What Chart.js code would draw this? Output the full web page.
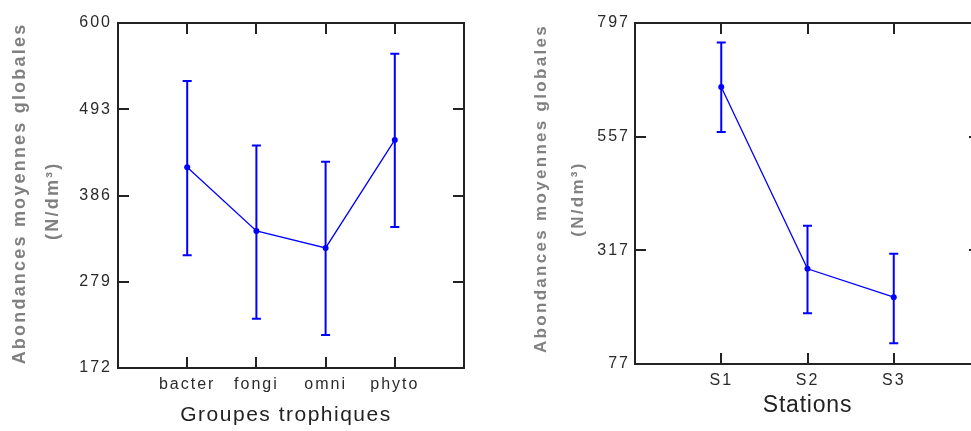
<!DOCTYPE html>
<html><head><meta charset="utf-8">
<script src="https://cdn.jsdelivr.net/npm/chart.js@4/dist/chart.umd.min.js"></script>
<style>
html,body{margin:0;padding:0;background:#fff;overflow:hidden;width:971px;height:431px;}
#c1{position:absolute;left:0;top:0;}
#c2{position:absolute;left:490px;top:0;}
</style></head><body>
<canvas id="c1" width="480" height="431"></canvas>
<canvas id="c2" width="500" height="431"></canvas>
<script>
// ---- Data (left panel) ----
const groupCategories = ['bacter', 'fongi', 'omni', 'phyto'];
const groupMeans = [421, 342, 321, 455];
const groupUpper = [528, 448, 428, 562];
const groupLower = [312, 233, 213, 347];
const groupYTicks = [172, 279, 386, 493, 600];

// ---- Data (right panel) ----
const stationCategories = ['S1', 'S2', 'S3'];
const stationMeans = [662, 278, 218];
const stationUpper = [756, 369, 310];
const stationLower = [567, 184, 121];
const stationYTicks = [77, 317, 557, 797];

const yTitleMain = 'Abondances moyennes globales';
const yTitleUnit = '(N/dm³)';
const FONT = "'Liberation Sans', Arial, Helvetica, sans-serif";

function makePlugin(cfg) {
  return {
    id: 'frame_' + cfg.id,
    afterLayout(chart) {
      const spacing = { x: cfg.xLS, y: cfg.yLS };
      const shift = { x: [cfg.xShift, 0], y: [0, cfg.yShift] };
      Object.values(chart.scales).forEach(s => {
        if (s._lsWrapped) return;
        s._lsWrapped = true;
        const dl = s.drawLabels, dt = s.drawTitle;
        s.drawLabels = function (ca) {
          const c = this.ctx; c.save(); c.letterSpacing = cfg.tickLS; dl.call(this, ca); c.restore();
        };
        s.drawTitle = function () {
          const c = this.ctx; c.save();
          c.letterSpacing = spacing[this.id];
          c.translate(shift[this.id][0], shift[this.id][1]);
          dt.call(this); c.restore();
        };
      });
    },
    beforeDatasetsDraw(chart) {
      const { ctx, scales: { x, y } } = chart;
      ctx.save();
      ctx.strokeStyle = '#0000ff';
      ctx.lineWidth = 2;
      cfg.upper.forEach((u, i) => {
        const px = x.getPixelForValue(i + 1);
        const pu = y.getPixelForValue(u);
        const pl = y.getPixelForValue(cfg.lower[i]);
        ctx.beginPath();
        ctx.moveTo(px, pu); ctx.lineTo(px, pl);
        ctx.moveTo(px - 4.5, pu); ctx.lineTo(px + 4.5, pu);
        ctx.moveTo(px - 4.5, pl); ctx.lineTo(px + 4.5, pl);
        ctx.stroke();
      });
      ctx.restore();
    },
    afterDraw(chart) {
      const { ctx, chartArea: a, scales: { x, y } } = chart;
      ctx.save();
      ctx.strokeStyle = '#222';
      ctx.lineWidth = 2;
      ctx.strokeRect(a.left, a.top, a.right - a.left, a.bottom - a.top);
      const tl = 11;
      ctx.beginPath();
      cfg.categories.forEach((c, i) => {
        const px = Math.round(x.getPixelForValue(i + 1));
        ctx.moveTo(px, a.bottom); ctx.lineTo(px, a.bottom - tl);
        ctx.moveTo(px, a.top); ctx.lineTo(px, a.top + tl);
      });
      cfg.yTicks.forEach(v => {
        const py = Math.round(y.getPixelForValue(v));
        ctx.moveTo(a.left, py); ctx.lineTo(a.left + tl, py);
        ctx.moveTo(a.right, py); ctx.lineTo(a.right - tl, py);
      });
      ctx.stroke();
      ctx.restore();
    }
  };
}

function buildChart(canvasId, cfg) {
  return new Chart(document.getElementById(canvasId), {
    type: 'line',
    data: {
      datasets: [{
        data: cfg.means.map((v, i) => ({ x: i + 1, y: v })),
        borderColor: '#0000ff',
        backgroundColor: '#0000ff',
        borderWidth: 1.3,
        pointRadius: 3,
        pointHoverRadius: 3,
        pointBorderWidth: 0,
        pointBackgroundColor: '#0000ff',
        tension: 0,
        fill: false
      }]
    },
    options: {
      responsive: false,
      animation: false,
      devicePixelRatio: 1,
      events: [],
      layout: { padding: { left: 0, top: cfg.top, right: cfg.right, bottom: 0 } },
      plugins: { legend: { display: false }, tooltip: { enabled: false } },
      scales: {
        x: {
          type: 'linear',
          min: 0,
          max: cfg.categories.length + 1,
          afterBuildTicks: s => { s.ticks = cfg.categories.map((c, i) => ({ value: i + 1 })); },
          afterFit: s => { s.height = cfg.xAxisHeight; s.paddingLeft = 0; s.paddingRight = 0; },
          ticks: {
            callback: v => cfg.categories[v - 1],
            color: '#2a2a2a',
            font: { family: FONT, size: 16 },
            padding: 7,
            maxRotation: 0,
            autoSkip: false
          },
          grid: { display: false, drawTicks: false },
          border: { display: false },
          title: {
            display: true,
            text: cfg.xTitle,
            color: '#222',
            font: { family: FONT, size: cfg.xTitleSize },
            padding: { top: 0, bottom: cfg.xTitlePad }
          }
        },
        y: {
          type: 'linear',
          min: cfg.yTicks[0],
          max: cfg.yTicks[cfg.yTicks.length - 1],
          afterBuildTicks: s => { s.ticks = cfg.yTicks.map(v => ({ value: v })); },
          afterFit: s => { s.width = cfg.yAxisWidth; s.paddingTop = 0; s.paddingBottom = 0; },
          ticks: {
            callback: v => String(v),
            color: '#2a2a2a',
            font: { family: FONT, size: 16 },
            padding: cfg.yTickPad,
            autoSkip: false
          },
          grid: { display: false, drawTicks: false },
          border: { display: false },
          title: {
            display: true,
            text: [yTitleMain, yTitleUnit + cfg.unitPad],
            color: '#808080',
            font: { family: FONT, size: cfg.yTitleSize, weight: 'bold', lineHeight: cfg.yTitleLH },
            padding: { top: cfg.yTitlePad, bottom: 0 }
          }
        }
      }
    },
    plugins: [makePlugin(cfg)]
  });
}

buildChart('c1', {
  id: 'left',
  categories: groupCategories, means: groupMeans, upper: groupUpper, lower: groupLower, yTicks: groupYTicks,
  xTitle: 'Groupes trophiques',
  top: 23, right: 16, xAxisHeight: 63, yAxisWidth: 118, yTickPad: 6,
  yTitleSize: 18, yTitleLH: '33px', yTitlePad: 4, unitPad: '  ',
  xTitleSize: 21, xTitlePad: 3.4,
  tickLS: '2px', xLS: '1.5px', yLS: '2.2px',
  xShift: -5, yShift: -2
});

buildChart('c2', {
  id: 'right',
  categories: stationCategories, means: stationMeans, upper: stationUpper, lower: stationLower, yTicks: stationYTicks,
  xTitle: 'Stations',
  top: 23, right: 10, xAxisHeight: 67, yAxisWidth: 145, yTickPad: 5,
  yTitleSize: 17, yTitleLH: '36.5px', yTitlePad: 33.5, unitPad: '   ',
  xTitleSize: 23, xTitlePad: 11.7,
  tickLS: '2px', xLS: '0.8px', yLS: '2.3px',
  xShift: 0, yShift: -5
});
</script>
</body></html>
